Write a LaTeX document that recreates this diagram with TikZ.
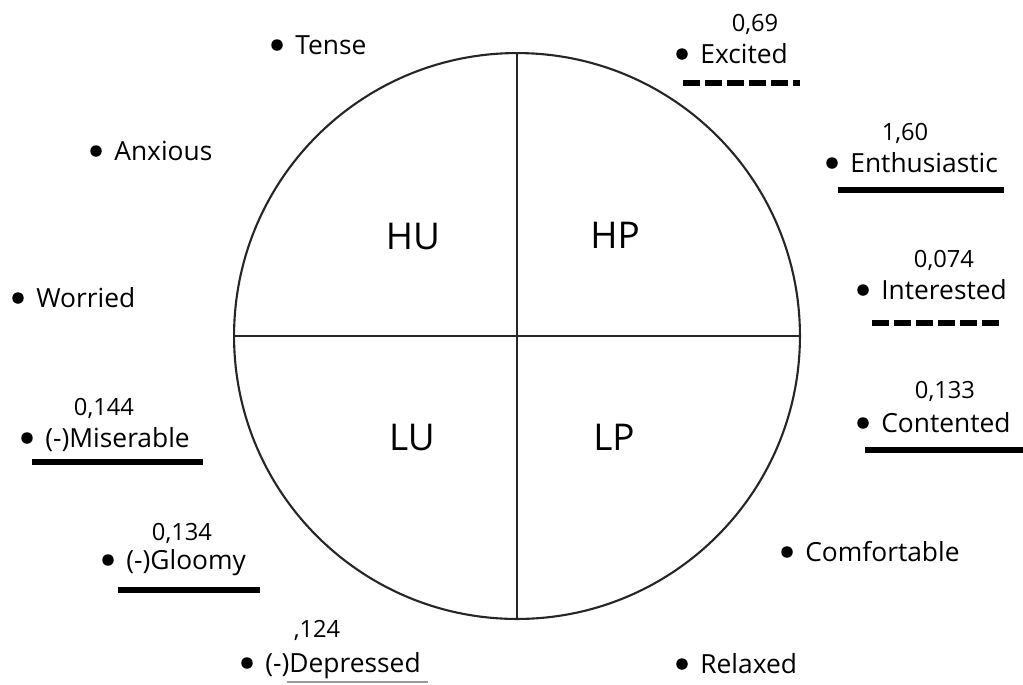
\documentclass[tikz,border=0pt]{standalone}
\usepackage{fontspec}
\setmainfont{Open Sans}
\usetikzlibrary{positioning}
\usetikzlibrary{calc}
\tikzstyle{dot}=[circle,fill=black,inner sep=0pt,minimum size=0.23cm]
\tikzstyle{word}=[anchor=base west,inner sep=0pt,font=\fontsize{15}{18}\selectfont]
\tikzstyle{value}=[anchor=base,inner sep=0pt,font=\fontsize{13.5}{16}\selectfont]
\tikzstyle{quad}=[font=\fontsize{21}{25}\selectfont]
\tikzstyle{axis} = [draw=black!85,line width=1.2pt]
\tikzstyle{solidline} = [draw,line width=0.11cm]
\tikzstyle{dashline} = [draw,line width=0.11cm,dash pattern=on 0.34cm off 0.1cm]
\tikzstyle{thinline} = [draw,gray!80,line width=0.6pt]

\begin{document}
\begin{tikzpicture}[x=0.02cm,y=-0.02cm]
   \useasboundingbox (0,0) rectangle (1023,684);

   \node[circle,axis,minimum size=11.32cm,inner sep=0pt] (wheel) at (517,336) {};
   \path[axis] (wheel.north) -- (wheel.south);
   \path[axis] (wheel.west) -- (wheel.east);

    \foreach \dx/\dy/\name/\txt in {-104/-99/hu/HU, 98/-101/hp/HP, -105/101/lu/LU, 97/101/lp/LP}
        \node[quad] (\name) at ($(wheel.center)+(\dx,\dy)$) {\txt};

    \foreach \x/\y/\name/\txt in {277/45/tense/Tense, 96/151/anx/Anxious, 18/298/wor/Worried,
                                  27/438/mis/{(-)Miserable}, 108/560/glo/{(-)Gloomy}, 247/663/dep/{(-)Depressed},
                                  682/54/exc/Excited, 832/163/ent/Enthusiastic, 863/290/int/Interested,
                                  863/423/con/Contented, 787/552/com/Comfortable, 682/664/rel/Relaxed}
    {
        \node[dot] (d\name) at (\x,\y) {};
        \node[word] (l\name) at ($(d\name)+(18,9)$) {\txt};
    }

    \foreach \x/\y/\name/\val in {755/31/exc/{0,69}, 905/140/ent/{1,60}, 944/267/int/{0,074}, 945/398/con/{0,133},
                                  104/415/mis/{0,144}, 182/540/glo/{0,134}, 317/637/dep/{,124}}
        \node[value] (v\name) at (\x,\y) {\val};

    % underlines
    \foreach \name/\xa/\xb/\y in {ent/838/1004/190, con/865/1023/450, mis/32/203/462, glo/118/260/590}
    {
        \coordinate (u\name-a) at (\xa,\y);
        \coordinate (u\name-b) at (\xb,\y);
        \path[solidline] (u\name-a) -- (u\name-b);
    }
    \foreach \name/\xa/\xb/\y in {exc/683/800/83, int/872/1000/323}
    {
        \coordinate (u\name-a) at (\xa,\y);
        \coordinate (u\name-b) at (\xb,\y);
        \path[dashline] (u\name-a) -- (u\name-b);
    }
    \coordinate (udep-a) at (287,682);
    \coordinate (udep-b) at (428,682);
    \path[thinline] (udep-a) -- (udep-b);

\end{tikzpicture}
\end{document}
